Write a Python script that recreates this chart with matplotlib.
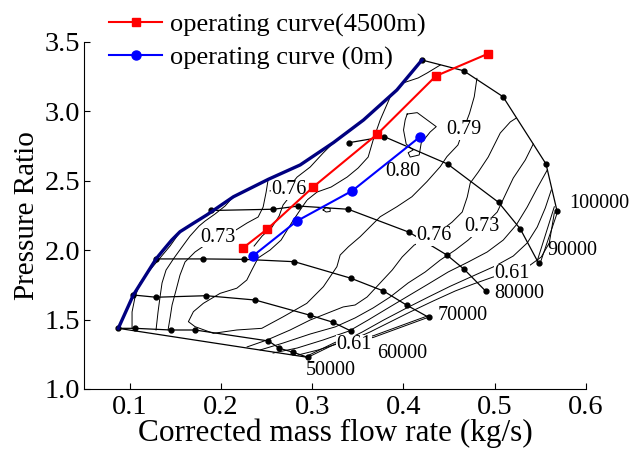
import matplotlib.pyplot as plt

plt.rcParams['font.family'] = ['Liberation Serif', 'DejaVu Serif']

# operating curves
alt_flow = [0.2245, 0.2509, 0.3014, 0.3716, 0.4357, 0.4924]
alt_pr = [2.018, 2.153, 2.457, 2.837, 3.255, 3.414]
sea_flow = [0.2349, 0.2832, 0.3442, 0.4185]
sea_pr = [1.958, 2.210, 2.429, 2.818]

# surge line
surge_flow = [0.0873, 0.1038, 0.1287, 0.1367, 0.1459, 0.1550, 0.1697, 0.1844,
              0.2136, 0.2520, 0.2868, 0.3233, 0.3563, 0.3929, 0.4204]
surge_pr = [1.437, 1.677, 1.937, 2.001, 2.073, 2.133, 2.194, 2.254,
            2.385, 2.511, 2.614, 2.775, 2.938, 3.154, 3.370]

# speed lines
n50_flow = [0.0873, 0.1057, 0.1448, 0.1715, 0.2520, 0.2641, 0.2794, 0.2952]
n50_pr = [1.437, 1.437, 1.425, 1.425, 1.346, 1.293, 1.264, 1.228]
n60_flow = [0.1038, 0.1287, 0.1836, 0.2374, 0.2978, 0.3227, 0.3424]
n60_pr = [1.677, 1.661, 1.672, 1.641, 1.531, 1.481, 1.418]
n70_flow = [0.1287, 0.1806, 0.2253, 0.2805, 0.3424, 0.3782, 0.4039, 0.4276]
n70_pr = [1.937, 1.937, 1.934, 1.917, 1.798, 1.706, 1.603, 1.517]
n80_flow = [0.1891, 0.2575, 0.2849, 0.3395, 0.4064, 0.4478, 0.4668, 0.4902]
n80_pr = [2.286, 2.295, 2.318, 2.295, 2.129, 1.965, 1.862, 1.706]
n90_flow = [0.3409, 0.3790, 0.4485, 0.5044, 0.5283, 0.5484]
n90_pr = [2.775, 2.818, 2.621, 2.345, 2.153, 1.906]
n100_flow = [0.4204, 0.4660, 0.5093, 0.5565, 0.5686]
n100_pr = [3.370, 3.293, 3.106, 2.621, 2.282]
speed_names = ['50000', '60000', '70000', '80000', '90000', '100000']
speed_label_flow = [0.2934, 0.3716, 0.4379, 0.5000, 0.5576, 0.5824]
speed_label_pr = [1.132, 1.257, 1.533, 1.689, 1.996, 2.338]

# lower boundary
bnd_flow = [0.0873, 0.2952]
bnd_pr = [1.437, 1.228]

# efficiency contours
loop_flow = [0.4807, 0.4778, 0.4726, 0.4657, 0.4599, 0.4478, 0.4405, 0.4259,
             0.4094, 0.3929, 0.3746, 0.3636, 0.3526, 0.3398, 0.3307, 0.3271,
             0.3123, 0.2941, 0.2684, 0.2447, 0.2173, 0.1916, 0.1715, 0.1642,
             0.1697, 0.1806, 0.1990, 0.2173, 0.2283, 0.2338, 0.2407, 0.2538,
             0.2659, 0.2780, 0.2890, 0.2945, 0.3054, 0.3208, 0.3384, 0.3504,
             0.3614, 0.3669, 0.3746, 0.3856, 0.3998, 0.4163, 0.4262, 0.4405]
loop_pr = [3.238, 3.106, 2.986, 2.866, 2.758, 2.674, 2.602, 2.494,
           2.385, 2.313, 2.241, 2.169, 2.097, 2.025, 1.965, 1.881,
           1.737, 1.617, 1.521, 1.437, 1.425, 1.401, 1.449, 1.485,
           1.557, 1.617, 1.689, 1.726, 1.785, 1.857, 1.944, 2.001,
           2.073, 2.203, 2.311, 2.362, 2.419, 2.455, 2.527, 2.592,
           2.671, 2.794, 2.938, 3.104, 3.205, 3.241, 3.277, 3.334]
island_flow = [0.4042, 0.4152, 0.4361, 0.4295, 0.4196, 0.4174, 0.4075, 0.4053,
               0.4108, 0.4031, 0.4002, 0.4020, 0.4042]
island_pr = [2.981, 2.991, 2.890, 2.852, 2.772, 2.686, 2.671, 2.702,
             2.722, 2.765, 2.866, 2.938, 2.981]
dot_flow = [0.3120, 0.3153, 0.3197, 0.3197, 0.3153, 0.3120]
dot_pr = [2.290, 2.308, 2.300, 2.279, 2.275, 2.290]
l1_flow = [0.1550, 0.1441, 0.1331, 0.1221, 0.1111, 0.1057, 0.1024, 0.1024]
l1_pr = [2.131, 2.030, 1.944, 1.857, 1.764, 1.663, 1.555, 1.439]
l2_flow = [0.2132, 0.2044, 0.1935, 0.1825, 0.1759, 0.1660, 0.1572, 0.1485,
           0.1397, 0.1353, 0.1331, 0.1309, 0.1287]
l2_pr = [2.383, 2.318, 2.261, 2.210, 2.174, 2.102, 2.023, 1.944,
         1.857, 1.764, 1.663, 1.555, 1.425]
l3_flow = [0.2516, 0.2495, 0.2462, 0.2407, 0.2286, 0.2165, 0.1968, 0.1825,
           0.1715, 0.1605, 0.1550, 0.1507, 0.1463, 0.1441, 0.1419]
l3_pr = [2.506, 2.419, 2.311, 2.239, 2.196, 2.146, 2.095, 2.037,
         1.987, 1.915, 1.821, 1.713, 1.605, 1.512, 1.425]
l4_flow = [0.3230, 0.3120, 0.2978, 0.2835, 0.2736, 0.2538]
l4_pr = [2.772, 2.700, 2.599, 2.527, 2.448, 2.427]
l5_flow = [0.2758, 0.2681, 0.2637, 0.2560, 0.2451, 0.2363]
l5_pr = [2.390, 2.326, 2.246, 2.167, 2.102, 2.030]
c1_flow = [0.5239, 0.5173, 0.5063, 0.4931, 0.4822, 0.4734, 0.4701, 0.4646,
           0.4536, 0.4339, 0.4119, 0.3987, 0.3878, 0.3746, 0.3603, 0.3471,
           0.3340, 0.2978, 0.2758, 0.2505, 0.2286]
c1_pr = [2.952, 2.924, 2.844, 2.671, 2.563, 2.484, 2.383, 2.275,
         2.203, 2.102, 2.037, 1.951, 1.857, 1.764, 1.663, 1.605,
         1.591, 1.497, 1.425, 1.353, 1.303]
c2_flow = [0.5425, 0.5338, 0.5206, 0.5118, 0.5030, 0.4866, 0.4712, 0.4569,
           0.4405, 0.4240, 0.4053, 0.3856, 0.3669, 0.3471, 0.3252, 0.2978,
           0.2681, 0.2429]
c2_pr = [2.765, 2.650, 2.520, 2.398, 2.275, 2.167, 2.073, 2.001,
         1.929, 1.843, 1.764, 1.663, 1.584, 1.512, 1.447, 1.396,
         1.331, 1.281]
c3_flow = [0.5579, 0.5469, 0.5359, 0.5239, 0.5096, 0.4920, 0.4712, 0.4492,
           0.4273, 0.4053, 0.3834, 0.3614, 0.3406, 0.3120, 0.2835, 0.2571]
c3_pr = [2.578, 2.448, 2.311, 2.182, 2.073, 1.987, 1.915, 1.843,
         1.756, 1.670, 1.584, 1.497, 1.418, 1.353, 1.295, 1.259]
c4_flow = [0.5623, 0.5557, 0.5469, 0.5359, 0.5206, 0.5008, 0.4767, 0.4514,
           0.4273, 0.4020, 0.3779, 0.3548, 0.3307, 0.3065, 0.2846]
c4_pr = [2.434, 2.304, 2.167, 2.052, 1.958, 1.886, 1.815, 1.740,
         1.662, 1.578, 1.495, 1.410, 1.331, 1.281, 1.245]
c5_flow = [0.5656, 0.5601, 0.5513, 0.5392, 0.5195, 0.4986, 0.4767, 0.4569,
           0.4328, 0.4075, 0.3834, 0.3636, 0.3482]
c5_pr = [2.268, 2.052, 1.951, 1.893, 1.829, 1.807, 1.756, 1.706,
         1.634, 1.555, 1.476, 1.411, 1.367]
d1_flow = [0.2952, 0.3252, 0.3669, 0.4276]
d1_pr = [1.228, 1.324, 1.371, 1.517]
d1b_pr = [1.240, 1.336, 1.383, 1.529]
d2_flow = [0.5656, 0.5466]
d2_pr = [2.313, 1.917]
d2b_flow = [0.5692, 0.5510]
d2b_pr = [2.277, 1.924]

eff_names = ['0.73', '0.76', '0.80', '0.79', '0.76', '0.73', '0.61', '0.61']
eff_label_flow = [0.1968, 0.2744, 0.3995, 0.4660, 0.4335, 0.4862, 0.5191, 0.3457]
eff_label_pr = [2.093, 2.434, 2.566, 2.866, 2.104, 2.169, 1.829, 1.317]

fig = plt.figure(figsize=(6.29, 4.5), dpi=100)
ax = fig.add_axes([0.134, 0.1356, 0.7971, 0.7711])

# efficiency contours
contours = [(loop_flow, loop_pr), (island_flow, island_pr), (dot_flow, dot_pr),
            (l1_flow, l1_pr), (l2_flow, l2_pr), (l3_flow, l3_pr),
            (l4_flow, l4_pr), (l5_flow, l5_pr), (c1_flow, c1_pr),
            (c2_flow, c2_pr), (c3_flow, c3_pr), (c4_flow, c4_pr),
            (c5_flow, c5_pr), (d1_flow, d1_pr), (d1_flow, d1b_pr),
            (d2_flow, d2_pr), (d2b_flow, d2b_pr)]
for fx, fy in contours:
    ax.plot(fx, fy, color='black', lw=0.7, zorder=1)

# speed lines and boundary
speed_lines = [(n50_flow, n50_pr), (n60_flow, n60_pr), (n70_flow, n70_pr),
               (n80_flow, n80_pr), (n90_flow, n90_pr), (n100_flow, n100_pr)]
for fx, fy in speed_lines:
    ax.plot(fx, fy, color='black', lw=0.9, marker='o', markersize=3.5, zorder=2)
ax.plot(bnd_flow, bnd_pr, color='black', lw=0.9, zorder=2)

for name, fx, fy in zip(speed_names, speed_label_flow, speed_label_pr):
    ax.text(fx, fy, name, fontsize=14.5, ha='left', va='center', zorder=3)

for name, fx, fy in zip(eff_names, eff_label_flow, eff_label_pr):
    ax.text(fx, fy, name, fontsize=14.5, ha='center', va='center', zorder=3,
            bbox=dict(facecolor='white', edgecolor='none', pad=0.3))

# surge line
ax.plot(surge_flow, surge_pr, color='#000080', lw=2.4, zorder=4)

# operating curves
ax.plot(alt_flow, alt_pr, color='red', lw=1.5, marker='s', markersize=6,
        label='operating curve(4500m)', zorder=5)
ax.plot(sea_flow, sea_pr, color='blue', lw=1.5, marker='o', markersize=6.5,
        label='operating curve (0m)', zorder=5)

ax.set_xlim(0.05, 0.6)
ax.set_ylim(1.0, 3.5)
ax.set_xticks([0.1, 0.2, 0.3, 0.4, 0.5, 0.6])
ax.set_yticks([1.0, 1.5, 2.0, 2.5, 3.0, 3.5])
ax.set_xticklabels(['0.1', '0.2', '0.3', '0.4', '0.5', '0.6'])
ax.set_yticklabels(['1.0', '1.5', '2.0', '2.5', '3.0', '3.5'])
ax.tick_params(direction='in', length=4, labelsize=20.5)
ax.tick_params(axis='x', pad=4)
ax.tick_params(axis='y', pad=3)
ax.spines['top'].set_visible(False)
ax.spines['right'].set_visible(False)
ax.set_xlabel('Corrected mass flow rate (kg/s)', fontsize=22.5, labelpad=-1)
ax.set_ylabel('Pressure Ratio', fontsize=21, labelpad=3)

fig.legend(loc='upper left', bbox_to_anchor=(0.153, 1.0), frameon=False,
           fontsize=19, handlelength=2.0, handletextpad=0.28, borderpad=0,
           labelspacing=0.34)

fig.savefig('out.png', dpi=100)
